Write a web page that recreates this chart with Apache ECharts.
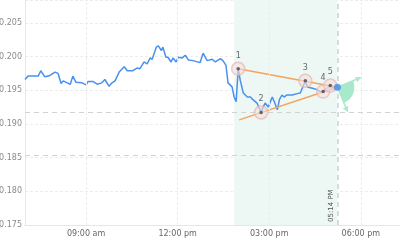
<!DOCTYPE html>
<html>
<head>
<meta charset="utf-8">
<script src="https://cdn.jsdelivr.net/npm/echarts@6/dist/echarts.min.js"></script>
<style>
html,body{margin:0;padding:0;background:#fff;}
#c{width:400px;height:250px;}
</style>
</head>
<body>
<div id="c"></div>
<script>
const times = ['07:00','07:06','07:14','07:26','07:31','07:39','07:49','07:59','08:05','08:11','08:15','08:23','08:29','08:34','08:40','08:52','09:00','09:04','09:14','09:22','09:31','09:37','09:45','09:51','09:57','10:05','10:15','10:21','10:32','10:40','10:46','10:54','11:00','11:06','11:10','11:18','11:22','11:28','11:31','11:37','11:41','11:47','11:51','11:57','12:01','12:09','12:15','12:21','12:30','12:44','12:50','12:58','13:08','13:14','13:24','13:29','13:35','13:39','13:47','13:51','13:55','13:59','14:03','14:09','14:17','14:23','14:28','14:36','14:44','14:48','14:52','14:58','15:06','15:10','15:16','15:20','15:25','15:29','15:35','15:45','15:55','16:01','16:11','16:15','16:25','16:34','16:40','16:46','16:50','17:00','17:06','17:14'];
const prices = [0.1966,0.1971,0.1971,0.1971,0.1979,0.1970,0.1972,0.1977,0.1975,0.1960,0.1964,0.1961,0.1959,0.1971,0.1962,0.1961,0.1958,0.1963,0.1963,0.1959,0.1961,0.1966,0.1956,0.1961,0.1964,0.1977,0.1985,0.1979,0.1979,0.1983,0.1982,0.1992,0.1989,0.1998,0.1996,0.2014,0.2016,0.2009,0.2014,0.1999,0.1999,0.1992,0.1998,0.1992,0.1999,0.1998,0.2002,0.1995,0.1994,0.1991,0.2005,0.1994,0.1996,0.1992,0.1997,0.1994,0.1987,0.1961,0.1955,0.1940,0.1933,0.1982,0.1965,0.1946,0.1940,0.1940,0.1936,0.1931,0.1917,0.1925,0.1931,0.1925,0.1940,0.1933,0.1921,0.1936,0.1943,0.1940,0.1943,0.1943,0.1945,0.1946,0.1964,0.1955,0.1953,0.1951,0.1948,0.1948,0.1951,0.1957,0.1953,0.19545];

const pivotLabels = ['1','2','3','4','5'];
const pivotTimes = ['13:59','14:44','16:11','16:46','17:00'];
const pivotValues = [0.1982,0.1917,0.1964,0.1948,0.1957];

const upperTrendTimes = ['13:59','17:14'];
const upperTrendValues = [0.1982,0.19545];
const lowerTrendTimes = ['14:01','17:14'];
const lowerTrendValues = [0.1906,0.19545];

const levelValues = [0.1917, 0.1853];
const zoneTimes = ['13:51','17:14'];
const markerTime = '17:14';
const markerLabel = '05:14 PM';

const fanTimes = ['17:14','18:00','17:34'];
const fanValues = [0.19545,0.1969,0.1918];

const xTickTimes = ['09:00','12:00','15:00','18:00'];
const axisMinTime = '07:00';
const axisMaxTime = '19:17';
const yMin = 0.175, yMax = 0.2084, yStep = 0.005;

// minutes since midnight
function tm(hm){ const p = hm.split(':'); return (+p[0])*60 + (+p[1]); }
function pad(n){ return (n<10?'0':'')+n; }

const lineData = times.map((t,i)=>[tm(t), prices[i]]);
const pivotData = pivotTimes.map((t,i)=>({value:[tm(t), pivotValues[i]], label:pivotLabels[i]}));
const endPoint = [[tm(times[times.length-1]), prices[prices.length-1]]];
const xTicks = xTickTimes.map(tm);

const chart = echarts.init(document.getElementById('c'), null, {renderer:'canvas'});

function arrowHead(tip, from, len, half){
  const dx = tip[0]-from[0], dy = tip[1]-from[1];
  const L = Math.sqrt(dx*dx+dy*dy) || 1;
  const ux = dx/L, uy = dy/L;
  const bx = tip[0]-ux*len, by = tip[1]-uy*len;
  return [[tip[0],tip[1]],[bx - uy*half, by + ux*half],[bx + uy*half, by - ux*half]];
}

const gridLineStyle = {color: '#ececec', type: [3,2], width: 1};

const option = {
  animation: false,
  grid: {left: 25, right: 0, top: 0, bottom: 25, containLabel: false, outerBoundsMode: 'none'},
  xAxis: {
    type: 'value',
    min: tm(axisMinTime),
    max: tm(axisMaxTime),
    axisLine: {show: true, lineStyle: {color: '#e6e6e6'}},
    axisTick: {show: false, customValues: xTicks},
    splitLine: {show: false},
    axisLabel: {
      customValues: xTicks,
      color: '#666', fontSize: 8, fontFamily: 'DejaVu Sans', margin: 5,
      formatter: function(v){
        const h = Math.floor(v/60), m = Math.round(v%60);
        let h12 = h % 12; if (h12 === 0) h12 = 12;
        return pad(h12)+':'+pad(m)+' '+(h<12?'am':'pm');
      }
    }
  },
  yAxis: {
    type: 'value',
    min: yMin, max: yMax, interval: yStep,
    axisLine: {show: true, lineStyle: {color: '#e6e6e6'}},
    axisTick: {show: false},
    splitLine: {show: true, lineStyle: gridLineStyle},
    axisLabel: {
      color: '#8a8a8a', fontSize: 8, fontFamily: 'DejaVu Sans', margin: 3,
      showMaxLabel: false,
      formatter: function(v){ return v.toFixed(3); }
    }
  },
  series: [
    {
      type: 'line',
      data: lineData,
      showSymbol: false,
      lineStyle: {color: '#4a90ee', width: 1.5},
      itemStyle: {color: '#4a90ee'},
      z: 3,
      markArea: {
        silent: true,
        itemStyle: {color: '#edf7f3'},
        data: [[{xAxis: tm(zoneTimes[0])}, {xAxis: tm(zoneTimes[1])}]]
      },
      markLine: {
        silent: true,
        symbol: 'none',
        precision: 5,
        data: xTicks.map(v => ({xAxis: v, lineStyle: gridLineStyle, label: {show: false}, z: 1}))
          .concat(levelValues.map(v => ({yAxis: v, lineStyle: {color: '#d2d2d2', type: [5,4], width: 1}, label: {show: false}})))
          .concat([
          {xAxis: tm(markerTime), lineStyle: {color: '#cfcfcf', type: [5,4], width: 1.5},
           label: {show: true, position: 'insideStartTop', formatter: markerLabel, fontSize: 7, color: '#555', fontFamily: 'DejaVu Sans', distance: 3}}
        ])
      }
    },
    {
      type: 'line',
      data: upperTrendTimes.map((t,i)=>[tm(t), upperTrendValues[i]]),
      showSymbol: false,
      lineStyle: {color: '#f5a35c', width: 1.5},
      z: 4
    },
    {
      type: 'line',
      data: lowerTrendTimes.map((t,i)=>[tm(t), lowerTrendValues[i]]),
      showSymbol: false,
      lineStyle: {color: '#f5a35c', width: 1.5},
      z: 4
    },
    {
      type: 'custom',
      data: [[tm(fanTimes[0]), fanValues[0], tm(fanTimes[1]), fanValues[1], tm(fanTimes[2]), fanValues[2]]],
      encode: {x: [0,2,4], y: [1,3,5]},
      z: 5,
      silent: true,
      renderItem: function(params, api){
        const o = api.coord([api.value(0), api.value(1)]);
        const a = api.coord([api.value(2), api.value(3)]);
        const b = api.coord([api.value(4), api.value(5)]);
        const angA = Math.atan2(a[1]-o[1], a[0]-o[0]);
        const angB = Math.atan2(b[1]-o[1], b[0]-o[0]);
        const col = '#a9e9cb';
        return {
          type: 'group',
          children: [
            {type: 'sector', shape: {cx: o[0], cy: o[1], r0: 0, r: 17, startAngle: angA, endAngle: angB, clockwise: true}, style: {fill: col}},
            {type: 'line', shape: {x1: o[0], y1: o[1], x2: a[0], y2: a[1]}, style: {stroke: col, lineWidth: 1.5}},
            {type: 'line', shape: {x1: o[0], y1: o[1], x2: b[0], y2: b[1]}, style: {stroke: col, lineWidth: 1.5}},
            {type: 'polygon', shape: {points: arrowHead(a, o, 5, 3)}, style: {fill: col}},
            {type: 'polygon', shape: {points: arrowHead(b, o, 5, 3)}, style: {fill: col}}
          ]
        };
      }
    },
    {
      type: 'scatter',
      data: pivotData,
      symbol: 'circle',
      symbolSize: 13,
      itemStyle: {color: 'rgba(245,222,222,0.75)', borderColor: 'rgba(228,180,180,0.85)', borderWidth: 1.5},
      label: {show: true, position: 'top', distance: 2, fontSize: 8, color: '#444', fontFamily: 'DejaVu Sans',
        formatter: function(p){ return p.data.label; }},
      z: 6,
      silent: true
    },
    {
      type: 'scatter',
      data: pivotData.map(d => d.value),
      symbol: 'circle',
      symbolSize: 3.5,
      itemStyle: {color: '#444'},
      z: 7,
      silent: true
    },
    {
      type: 'scatter',
      data: endPoint,
      symbol: 'circle',
      symbolSize: 7,
      itemStyle: {color: '#3f8cf2'},
      z: 8,
      silent: true
    }
  ]
};
chart.setOption(option);
</script>
</body>
</html>
